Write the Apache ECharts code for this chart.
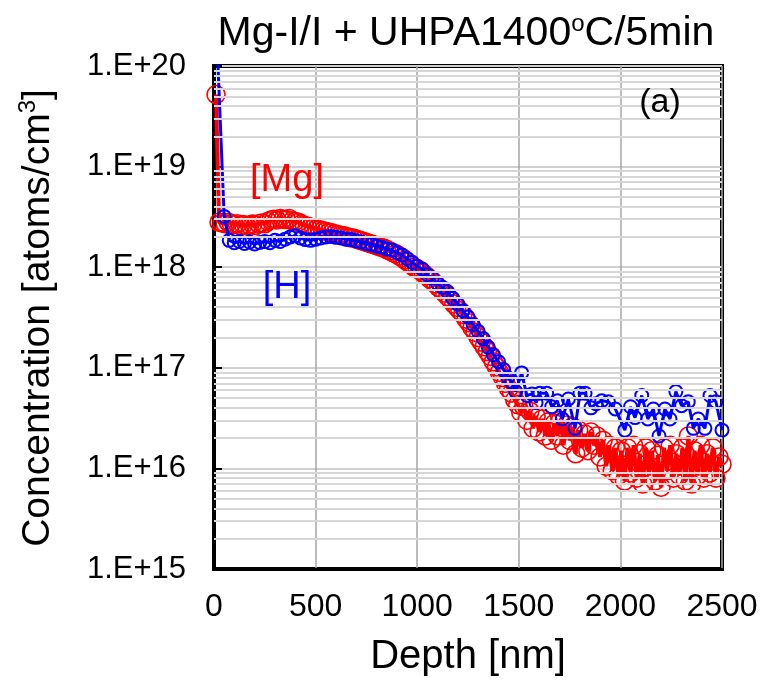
<!DOCTYPE html>
<html>
<head>
<meta charset="utf-8">
<script src="https://cdn.jsdelivr.net/npm/echarts@6/dist/echarts.min.js"></script>
<style>
html,body{margin:0;padding:0;background:#fff;}
#c{width:764px;height:689px;}
</style>
</head>
<body>
<div id="c"></div>
<script>
// ---- Data ----
var xTicks = [0, 500, 1000, 1500, 2000, 2500];
var yDecades = [1e15, 1e16, 1e17, 1e18, 1e19, 1e20];

var mgDepth = [10,25,40,55,70,85,100,115,130,145,160,175,190,205,220,235,250,265,280,295,310,325,340,355,370,385,400,415,430,445,460,475,490,505,520,535,550,565,580,595,610,625,640,655,670,685,700,715,730,745,760,775,790,805,820,835,850,865,880,895,910,925,940,955,970,985,1000,1015,1030,1045,1060,1075,1090,1105,1120,1135,1150,1165,1180,1195,1210,1225,1240,1255,1270,1285,1300,1315,1330,1345,1360,1375,1390,1405,1420,1435,1450,1465,1480,1495,1510,1525,1540,1555,1570,1585,1600,1615,1630,1645,1660,1675,1690,1705,1720,1735,1750,1765,1780,1795,1810,1825,1840,1855,1870,1885,1900,1915,1930,1945,1960,1975,1990,2005,2020,2035,2050,2065,2080,2095,2110,2125,2140,2155,2170,2185,2200,2215,2230,2245,2260,2275,2290,2305,2320,2335,2350,2365,2380,2395,2410,2425,2440,2455,2470,2485,2500];
var mgConc = [5.2e19,2.8e18,2.75e18,2.7e18,2.8e18,2.72e18,2.65e18,2.7e18,2.6e18,2.65e18,2.58e18,2.62e18,2.68e18,2.6e18,2.7e18,2.75e18,2.7e18,2.85e18,2.95e18,3.0e18,2.95e18,3.05e18,3.0e18,2.98e18,3.05e18,2.9e18,2.85e18,2.8e18,2.7e18,2.6e18,2.55e18,2.5e18,2.45e18,2.4e18,2.35e18,2.3e18,2.28e18,2.22e18,2.2e18,2.15e18,2.1e18,2.08e18,2.05e18,2.0e18,1.97e18,1.95e18,1.9e18,1.86e18,1.82e18,1.78e18,1.74e18,1.7e18,1.66e18,1.62e18,1.58e18,1.55e18,1.5e18,1.45e18,1.4e18,1.36e18,1.3e18,1.25e18,1.18e18,1.12e18,1.06e18,1.0e18,9.6e17,9.2e17,8.7e17,8.2e17,7.7e17,7.3e17,6.8e17,6.3e17,5.9e17,5.5e17,5.1e17,4.7e17,4.3e17,4.0e17,3.7e17,3.4e17,3.05e17,2.8e17,2.5e17,2.25e17,2.0e17,1.8e17,1.62e17,1.45e17,1.3e17,1.15e17,1.02e17,9.0e16,8.0e16,7.0e16,6.2e16,5.6e16,4.8e16,4.3e16,3.6e16,4.1e16,3.0e16,3.7e16,2.5e16,3.3e16,2.3e16,3.1e16,2.1e16,2.9e16,1.9e16,2.8e16,2.1e16,3.0e16,1.7e16,2.7e16,1.9e16,2.6e16,1.4e16,2.4e16,1.6e16,2.2e16,1.5e16,2.3e16,1.7e16,2.1e16,1.3e16,1.9e16,1.05e16,1.7e16,9.5e15,1.6e16,8.5e15,1.5e16,7.5e15,1.6e16,9.0e15,1.7e16,8.0e15,1.4e16,7.0e15,1.6e16,8.5e15,1.5e16,7.5e15,1.35e16,6.5e15,1.6e16,9.5e15,1.7e16,8.0e15,1.4e16,8.5e15,1.6e16,7.5e15,2.1e16,7.0e15,1.5e16,8.5e15,1.7e16,8.0e15,1.4e16,9.0e15,1.6e16,8.0e15,1.3e16,1.1e16];

var hDepth = [10,50,75,100,125,150,175,200,225,250,275,300,325,350,375,400,425,450,475,500,525,550,575,600,625,650,675,700,725,750,775,800,825,850,875,900,925,950,975,1000,1025,1050,1075,1100,1125,1150,1175,1200,1225,1250,1275,1300,1325,1350,1375,1400,1425,1445,1465,1485,1514,1540,1565,1585,1604,1637,1662,1690,1714,1744,1777,1801,1826,1855,1880,1908,1941,1975,2022,2050,2072,2105,2135,2162,2190,2219,2244,2273,2301,2334,2359,2383,2416,2441,2470,2500];
var hConc = [3e20,3.2e18,1.85e18,1.75e18,1.8e18,1.72e18,1.78e18,1.7e18,1.76e18,1.8e18,1.75e18,1.85e18,1.8e18,1.9e18,2.0e18,2.05e18,1.95e18,1.88e18,1.85e18,1.9e18,1.95e18,2.0e18,2.02e18,1.98e18,1.95e18,1.9e18,1.88e18,1.82e18,1.78e18,1.72e18,1.68e18,1.62e18,1.58e18,1.52e18,1.48e18,1.4e18,1.32e18,1.22e18,1.12e18,1.02e18,9.6e17,8.4e17,7.8e17,6.9e17,6.3e17,5.7e17,4.9e17,4.3e17,3.7e17,3.2e17,2.7e17,2.3e17,1.95e17,1.6e17,1.35e17,1.15e17,9.6e16,8.0e16,7.2e16,5.8e16,8.9e16,5.3e16,5.5e16,4.5e16,5.6e16,5.6e16,4.1e16,4.7e16,3.1e16,4.9e16,2.5e16,5.6e16,5.6e16,4.0e16,4.4e16,4.7e16,4.6e16,3.9e16,2.4e16,4.1e16,3.2e16,5.3e16,3.1e16,3.9e16,2.1e16,3.9e16,3.1e16,5.8e16,4.2e16,4.6e16,2.5e16,3.1e16,2.5e16,5.3e16,4.6e16,2.4e16];

// ---- build ----
function pairs(xs, ys){ var o=[]; for(var i=0;i<xs.length;i++) o.push([xs[i], ys[i]]); return o; }
var minorLines = [];
for (var e = 15; e < 20; e++) for (var m = 2; m <= 9; m++) minorLines.push({yAxis: m * Math.pow(10, e)});

var FONT = '"Liberation Sans", Arial, sans-serif';
function txt(fs, color){ return {fontFamily: FONT, fontSize: fs, fill: color, lineHeight: fs + 6}; }
var chart = echarts.init(document.getElementById('c'), null, {renderer: 'canvas'});
chart.setOption({
  animation: false,
  backgroundColor: '#ffffff',
  grid: {left: 214, top: 66, right: 42, bottom: 120, show: true, borderColor: '#000', borderWidth: 4, outerBoundsMode: 'none'},
  xAxis: {
    type: 'value', min: xTicks[0], max: xTicks[xTicks.length-1], interval: 500,
    name: 'Depth [nm]', nameLocation: 'middle', nameGap: 68,
    nameTextStyle: {fontFamily: FONT, fontSize: 40, color: '#000'},
    axisLine: {show: true, lineStyle: {color: '#000', width: 2}},
    axisTick: {show: false},
    axisLabel: {fontFamily: FONT, fontSize: 32, color: '#000', margin: 22,
      formatter: function(v){ return String(v); }},
    splitLine: {show: true, lineStyle: {color: '#a6a6a6', width: 1.5}}
  },
  yAxis: {
    type: 'log', logBase: 10, min: yDecades[0], max: yDecades[yDecades.length-1],
    axisLine: {show: true, onZero: false, lineStyle: {color: '#000', width: 4}},
    axisTick: {show: true, inside: true, length: 8, lineStyle: {color: '#000', width: 2}},
    axisLabel: {fontFamily: FONT, fontSize: 31, color: '#000', margin: 28,
      formatter: function(v){ return '1.E+' + Math.round(Math.log10(v)); }},
    splitLine: {show: true, lineStyle: {color: '#d0d0d0', width: 2}}
  },
  series: [
    {type: 'line', data: [], silent: true, z: 1,
     markLine: {silent: true, symbol: 'none', label: {show: false}, animation: false,
       lineStyle: {color: '#d6d6d6', width: 2, type: 'solid'}, data: minorLines}},
    {name: 'Mg', type: 'line', z: 3, data: pairs(mgDepth, mgConc),
     symbol: 'circle', symbolSize: 18, showAllSymbol: true,
     itemStyle: {color: 'rgba(0,0,0,0)', borderColor: '#ff0000', borderWidth: 1.6},
     lineStyle: {color: '#ff0000', width: 4}},
    {name: 'H', type: 'line', z: 4, data: pairs(hDepth, hConc),
     symbol: 'circle', symbolSize: 13, showAllSymbol: true,
     itemStyle: {color: 'rgba(0,0,0,0)', borderColor: '#0000ff', borderWidth: 2},
     lineStyle: {color: '#0000ff', width: 3}}
  ],
  graphic: [
    {type: 'text', z: 100, x: 466, y: 34, style: {text: '{a|Mg-I/I + UHPA1400}{s|o}{a|C/5min}', align: 'center', verticalAlign: 'middle',
      rich: {a: txt(41, '#000'), s: {fontFamily: FONT, fontSize: 24, fill: '#000', lineHeight: 47, padding: [0,0,20,0]}}}},
    {type: 'text', z: 100, x: 38, y: 318, rotation: Math.PI/2, style: {text: '{a|Concentration [atoms/cm}{s|3}{a|]}', align: 'center', verticalAlign: 'middle',
      rich: {a: txt(39, '#000'), s: {fontFamily: FONT, fontSize: 24, fill: '#000', lineHeight: 45, padding: [0,0,19,0]}}}},
    {type: 'text', z: 100, x: 287, y: 181, style: {text: '{a|[Mg]}', align: 'center', verticalAlign: 'middle', rich: {a: txt(38, '#ff0000')}}},
    {type: 'text', z: 100, x: 287, y: 288, style: {text: '{a|[H]}', align: 'center', verticalAlign: 'middle', rich: {a: txt(38, '#0000ff')}}},
    {type: 'text', z: 100, x: 660, y: 103, style: {text: '{a|(a)}', align: 'center', verticalAlign: 'middle', rich: {a: txt(34, '#000')}}}
  ]
});
</script>
</body>
</html>
